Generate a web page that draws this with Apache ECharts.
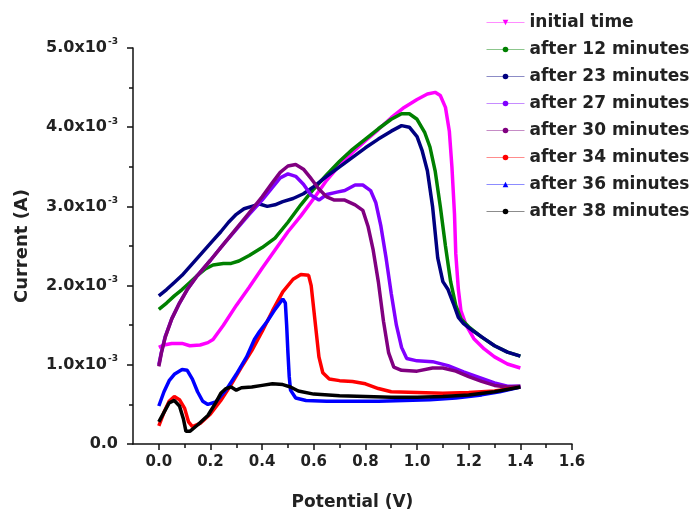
<!DOCTYPE html>
<html>
<head>
<meta charset="utf-8">
<title>Current vs Potential</title>
<script src="https://cdn.jsdelivr.net/npm/echarts@6/dist/echarts.min.js"></script>
<style>
  html, body { margin: 0; padding: 0; background: #ffffff; }
  #chart { width: 689px; height: 516px; }
</style>
</head>
<body>
<div id="chart"></div>
<script>
// Sweep curves: [potential (V), current (x10^-3 A)]
const initialTime = [[0.00,1.22],[0.02,1.25],[0.05,1.27],[0.09,1.27],[0.12,1.24],[0.16,1.25],[0.19,1.28],[0.21,1.32],[0.25,1.50],[0.30,1.75],[0.35,1.98],[0.40,2.22],[0.45,2.45],[0.50,2.68],[0.55,2.88],[0.60,3.10],[0.65,3.33],[0.70,3.52],[0.75,3.68],[0.80,3.83],[0.85,3.97],[0.90,4.12],[0.95,4.25],[1.00,4.35],[1.04,4.42],[1.07,4.44],[1.09,4.40],[1.11,4.25],[1.125,3.95],[1.135,3.50],[1.145,2.90],[1.15,2.40],[1.16,1.95],[1.17,1.68],[1.19,1.50],[1.22,1.33],[1.26,1.20],[1.30,1.10],[1.35,1.01],[1.40,0.96]];
const after12 = [[0.00,1.70],[0.03,1.78],[0.06,1.87],[0.09,1.95],[0.12,2.04],[0.15,2.13],[0.18,2.21],[0.21,2.26],[0.25,2.28],[0.28,2.28],[0.31,2.31],[0.35,2.38],[0.40,2.48],[0.45,2.60],[0.50,2.80],[0.55,3.02],[0.60,3.22],[0.65,3.40],[0.70,3.57],[0.75,3.72],[0.80,3.85],[0.85,3.98],[0.90,4.10],[0.94,4.17],[0.97,4.17],[1.00,4.10],[1.03,3.93],[1.05,3.75],[1.07,3.45],[1.09,3.00],[1.11,2.50],[1.13,2.05],[1.15,1.75],[1.17,1.58],[1.20,1.48],[1.25,1.35],[1.30,1.24],[1.35,1.16],[1.40,1.11]];
const after23 = [[0.00,1.87],[0.03,1.95],[0.06,2.04],[0.09,2.13],[0.12,2.24],[0.15,2.35],[0.18,2.46],[0.21,2.57],[0.24,2.68],[0.27,2.80],[0.30,2.90],[0.33,2.97],[0.36,3.00],[0.39,3.03],[0.42,3.00],[0.45,3.02],[0.48,3.06],[0.52,3.10],[0.56,3.16],[0.60,3.25],[0.65,3.38],[0.70,3.50],[0.75,3.62],[0.80,3.74],[0.85,3.85],[0.90,3.95],[0.94,4.02],[0.97,4.00],[1.00,3.88],[1.02,3.70],[1.04,3.45],[1.06,3.00],[1.08,2.35],[1.10,2.05],[1.12,1.95],[1.14,1.78],[1.16,1.60],[1.18,1.52],[1.22,1.42],[1.26,1.33],[1.30,1.24],[1.35,1.16],[1.40,1.11]];
const after27 = [[0.00,1.00],[0.01,1.16],[0.025,1.36],[0.05,1.58],[0.08,1.78],[0.11,1.95],[0.15,2.13],[0.20,2.32],[0.25,2.52],[0.30,2.71],[0.35,2.90],[0.40,3.08],[0.44,3.24],[0.47,3.36],[0.50,3.41],[0.53,3.38],[0.56,3.28],[0.59,3.14],[0.62,3.08],[0.65,3.15],[0.69,3.18],[0.72,3.20],[0.76,3.27],[0.79,3.27],[0.82,3.20],[0.84,3.05],[0.86,2.75],[0.88,2.35],[0.90,1.90],[0.92,1.50],[0.94,1.22],[0.96,1.08],[1.00,1.05],[1.06,1.04],[1.12,0.99],[1.18,0.91],[1.24,0.84],[1.30,0.77],[1.35,0.73],[1.40,0.73]];
const after30 = [[0.00,0.98],[0.01,1.15],[0.025,1.35],[0.05,1.58],[0.08,1.78],[0.11,1.95],[0.15,2.13],[0.20,2.32],[0.25,2.52],[0.30,2.72],[0.35,2.92],[0.40,3.12],[0.44,3.30],[0.47,3.43],[0.50,3.51],[0.53,3.53],[0.56,3.47],[0.59,3.35],[0.62,3.22],[0.65,3.12],[0.68,3.08],[0.72,3.08],[0.76,3.02],[0.79,2.95],[0.81,2.75],[0.83,2.45],[0.85,2.05],[0.87,1.55],[0.89,1.15],[0.91,0.97],[0.94,0.93],[1.00,0.92],[1.06,0.96],[1.10,0.96],[1.15,0.92],[1.20,0.85],[1.25,0.79],[1.30,0.74],[1.35,0.72],[1.40,0.73]];
const after34 = [[0.00,0.23],[0.02,0.40],[0.04,0.54],[0.06,0.60],[0.08,0.56],[0.10,0.45],[0.115,0.28],[0.13,0.22],[0.16,0.26],[0.20,0.38],[0.24,0.55],[0.28,0.75],[0.32,0.97],[0.36,1.18],[0.40,1.42],[0.44,1.68],[0.48,1.92],[0.52,2.08],[0.55,2.14],[0.58,2.13],[0.59,2.00],[0.60,1.70],[0.61,1.40],[0.62,1.10],[0.635,0.90],[0.66,0.82],[0.70,0.80],[0.75,0.79],[0.80,0.76],[0.85,0.70],[0.90,0.66],[1.00,0.65],[1.10,0.64],[1.20,0.65],[1.30,0.67],[1.40,0.72]];
const after36 = [[0.00,0.48],[0.02,0.66],[0.04,0.80],[0.06,0.88],[0.09,0.94],[0.11,0.93],[0.13,0.82],[0.15,0.66],[0.17,0.54],[0.19,0.50],[0.22,0.53],[0.26,0.68],[0.30,0.88],[0.34,1.10],[0.37,1.32],[0.39,1.42],[0.42,1.55],[0.45,1.70],[0.48,1.83],[0.49,1.78],[0.495,1.50],[0.50,1.15],[0.505,0.85],[0.51,0.68],[0.53,0.58],[0.57,0.55],[0.65,0.54],[0.75,0.54],[0.85,0.54],[0.95,0.55],[1.05,0.56],[1.15,0.58],[1.25,0.62],[1.32,0.66],[1.40,0.72]];
const after38 = [[0.00,0.28],[0.02,0.40],[0.04,0.52],[0.06,0.55],[0.08,0.48],[0.095,0.32],[0.105,0.16],[0.12,0.16],[0.15,0.24],[0.19,0.36],[0.22,0.52],[0.24,0.64],[0.26,0.70],[0.28,0.72],[0.30,0.68],[0.32,0.71],[0.36,0.72],[0.40,0.74],[0.44,0.76],[0.48,0.75],[0.51,0.72],[0.54,0.67],[0.60,0.63],[0.70,0.61],[0.80,0.60],[0.90,0.59],[1.00,0.59],[1.10,0.60],[1.20,0.62],[1.30,0.66],[1.40,0.72]];

const seriesNames = ['initial time','after 12 minutes','after 23 minutes','after 27 minutes','after 30 minutes','after 34 minutes','after 36 minutes','after 38 minutes'];
const seriesData = [initialTime, after12, after23, after27, after30, after34, after36, after38];
const seriesColors = ['#ff00ff','#008000','#000080','#8000ff','#800080','#ff0000','#0000ff','#000000'];
const seriesSymbols = ['triangle','circle','circle','circle','circle','circle','triangle','circle'];
const seriesSymbolRotate = [180,0,0,0,0,0,0,0];

const xMajorTicks = [0.0,0.2,0.4,0.6,0.8,1.0,1.2,1.4,1.6];
const xMinorTicks = [0.1,0.3,0.5,0.7,0.9,1.1,1.3,1.5];
const yScale = 1e-3;

const FONT = 'DejaVu Sans';
const TEXT = '#222222';

const chart = echarts.init(document.getElementById('chart'), null, { renderer: 'canvas' });

const option = {
  animation: false,
  backgroundColor: '#ffffff',
  grid: { left: 133, right: 117, top: 48, bottom: 71, containLabel: false },
  legend: {
    data: seriesNames,
    orient: 'vertical',
    left: 481,
    top: 9,
    itemWidth: 38,
    itemHeight: 7,
    itemGap: 10,
    lineStyle: { width: 1, opacity: 0.45 },
    textStyle: { fontFamily: FONT, fontWeight: 'bold', fontSize: 17, color: TEXT }
  },
  xAxis: [
    {
      type: 'value',
      min: -0.1,
      max: 1.6,
      name: 'Potential (V)',
      nameLocation: 'middle',
      nameGap: 50,
      nameTextStyle: { fontFamily: FONT, fontWeight: 'bold', fontSize: 17, color: TEXT },
      axisLine: { show: true, onZero: false, lineStyle: { color: '#111', width: 1.5 } },
      axisTick: { show: true, customValues: xMajorTicks, length: 6, lineStyle: { color: '#111', width: 1.5 } },
      axisLabel: {
        customValues: xMajorTicks,
        margin: 11,
        fontFamily: FONT, fontWeight: 'bold', fontSize: 15, color: TEXT,
        formatter: v => v.toFixed(1)
      },
      splitLine: { show: false }
    },
    {
      type: 'value',
      min: -0.1,
      max: 1.6,
      position: 'bottom',
      axisLine: { show: false },
      axisTick: { show: true, customValues: xMinorTicks, length: 4, lineStyle: { color: '#111', width: 1.5 } },
      axisLabel: { show: false },
      splitLine: { show: false }
    }
  ],
  yAxis: {
    type: 'value',
    min: 0,
    max: 5 * yScale,
    interval: 1 * yScale,
    name: 'Current (A)',
    nameLocation: 'middle',
    nameGap: 102,
    nameTextStyle: { fontFamily: FONT, fontWeight: 'bold', fontSize: 18, color: TEXT },
    axisLine: { show: true, onZero: false, lineStyle: { color: '#111', width: 1.5 } },
    axisTick: { show: true, length: 6, lineStyle: { color: '#111', width: 1.5 } },
    minorTick: { show: true, splitNumber: 2, length: 4, lineStyle: { color: '#111', width: 1.5 } },
    axisLabel: {
      margin: 15,
      formatter: v => {
        const m = v / yScale;
        if (Math.abs(m) < 1e-9) return '{m|0.0}';
        return '{m|' + m.toFixed(1) + 'x10}{e|-3}';
      },
      rich: {
        m: { fontFamily: FONT, fontWeight: 'bold', fontSize: 16, color: TEXT },
        e: { fontFamily: FONT, fontWeight: 'bold', fontSize: 9, color: TEXT, padding: [0, 0, 12, 1] }
      }
    },
    splitLine: { show: false }
  },
  series: seriesNames.map((name, i) => ({
    name: name,
    type: 'line',
    xAxisIndex: 0,
    data: seriesData[i].map(p => [p[0], p[1] * yScale]),
    color: seriesColors[i],
    symbol: seriesSymbols[i],
    symbolRotate: seriesSymbolRotate[i],
    symbolSize: 5,
    showSymbol: false,
    lineStyle: { width: 3.5, color: seriesColors[i] },
    itemStyle: { color: seriesColors[i] },
    z: 2 + i
  }))
};

chart.setOption(option);
</script>
</body>
</html>
